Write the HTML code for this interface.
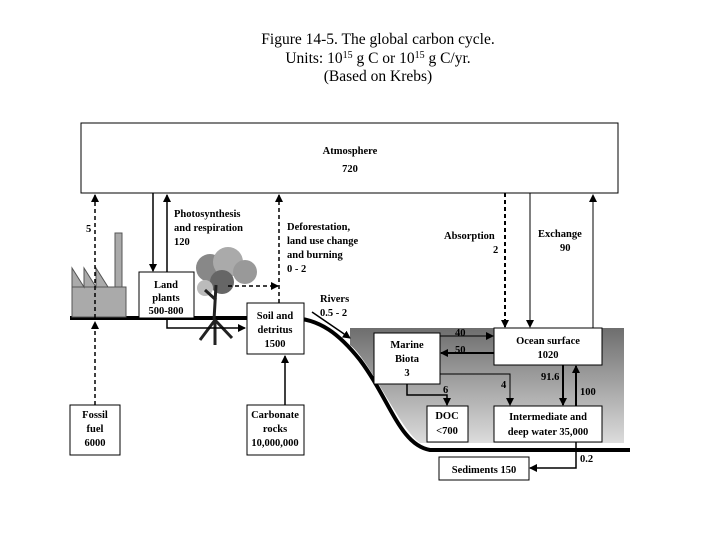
<!DOCTYPE html>
<html><head><meta charset="utf-8"><style>
body{margin:0;background:#fff}
svg{display:block}
text{font-family:"Liberation Serif",serif;}
.b{font-weight:bold;font-size:10.5px}
</style></head><body>
<svg width="720" height="540" viewBox="0 0 720 540" xmlns="http://www.w3.org/2000/svg">
<defs>
<linearGradient id="g" x1="0" y1="0" x2="0" y2="1">
<stop offset="0" stop-color="#6e6e6e"/><stop offset="1" stop-color="#dcdcdc"/></linearGradient>
<marker id="a" markerWidth="8" markerHeight="8" refX="7" refY="4" orient="auto" markerUnits="userSpaceOnUse"><path d="M0,0 L8,4 L0,8 z" fill="#000"/></marker>
</defs>
<g text-anchor="middle" font-size="15.5">
<text x="378" y="44">Figure 14-5. The global carbon cycle.</text>
<text x="378" y="63">Units: 10<tspan dy="-5" font-size="10">15</tspan><tspan dy="5"> g C or 10</tspan><tspan dy="-5" font-size="10">15</tspan><tspan dy="5"> g C/yr.</tspan></text>
<text x="378" y="81">(Based on Krebs)</text>
</g>
<!-- ocean -->
<path d="M350,328 L624,328 L624,443 L420,443 C400,430 370,360 350,345 z" fill="url(#g)"/>
<!-- ground -->
<path d="M70,318 L290,318 C320,318 340,335 360,360 C390,400 400,445 430,450 L630,450" fill="none" stroke="#000" stroke-width="4"/>
<!-- atmosphere -->
<rect x="81" y="123" width="537" height="70" fill="#fff" stroke="#000"/>
<text class="b" x="350" y="154" text-anchor="middle">Atmosphere</text>
<text class="b" x="350" y="172" text-anchor="middle">720</text>
<!-- factory -->
<rect x="72" y="287" width="54" height="30" fill="#aaa" stroke="#555"/>
<path d="M72,287 L72,268 L84,287 L84,268 L96,287 L96,268 L108,287z" fill="#aaa" stroke="#555"/>
<rect x="115" y="233" width="7" height="54" fill="#aaa" stroke="#555"/>
<!-- tree -->
<g fill="#888">
<circle cx="210" cy="268" r="14"/><circle cx="228" cy="262" r="15" fill="#aaa"/><circle cx="245" cy="272" r="12" fill="#999"/><circle cx="222" cy="282" r="12" fill="#666"/><circle cx="205" cy="288" r="8" fill="#bbb"/>
</g>
<path d="M214,320 L216,285 M216,300 L205,290 M215,320 L200,340 M215,320 L232,338 M215,320 L215,345" stroke="#222" stroke-width="3" fill="none"/>
<!-- boxes -->
<g fill="#fff" stroke="#000">
<rect x="139" y="272" width="55" height="46"/>
<rect x="247" y="303" width="57" height="51"/>
<rect x="374" y="333" width="66" height="51"/>
<rect x="494" y="328" width="108" height="37"/>
<rect x="427" y="406" width="41" height="36"/>
<rect x="494" y="406" width="108" height="36"/>
<rect x="439" y="457" width="90" height="23"/>
<rect x="70" y="405" width="50" height="50"/>
<rect x="247" y="405" width="57" height="50"/>
</g>
<g class="b" text-anchor="middle">
<text x="166" y="288">Land</text><text x="166" y="301">plants</text><text x="166" y="314">500-800</text>
<text x="275" y="319">Soil and</text><text x="275" y="333">detritus</text><text x="275" y="347">1500</text>
<text x="407" y="348">Marine</text><text x="407" y="362">Biota</text><text x="407" y="376">3</text>
<text x="548" y="344">Ocean surface</text><text x="548" y="358">1020</text>
<text x="447" y="419">DOC</text><text x="447" y="434">&lt;700</text>
<text x="548" y="420">Intermediate and</text><text x="548" y="435">deep water 35,000</text>
<text x="484" y="473">Sediments 150</text>
<text x="95" y="418">Fossil</text><text x="95" y="432">fuel</text><text x="95" y="446">6000</text>
<text x="275" y="418">Carbonate</text><text x="275" y="432">rocks</text><text x="275" y="446">10,000,000</text>
</g>
<g class="b">
<text x="86" y="232">5</text>
<text x="174" y="217">Photosynthesis</text><text x="174" y="231">and respiration</text><text x="174" y="245">120</text>
<text x="287" y="230">Deforestation,</text><text x="287" y="244">land use change</text><text x="287" y="258">and burning</text><text x="287" y="272">0 - 2</text>
<text x="320" y="302">Rivers</text><text x="320" y="316">0.5 - 2</text>
<text x="444" y="239">Absorption</text><text x="493" y="253">2</text>
<text x="538" y="237">Exchange</text><text x="560" y="251">90</text>
<text x="455" y="336">40</text><text x="455" y="353">50</text>
<text x="443" y="393">6</text><text x="501" y="388">4</text>
<text x="541" y="380">91.6</text><text x="580" y="395">100</text><text x="580" y="462">0.2</text>
</g>
<!-- arrows -->
<g stroke="#000" fill="none" stroke-width="1.5" marker-end="url(#a)">
<path d="M95,318 V195" stroke-dasharray="4,3"/>
<path d="M95,405 V322" stroke-dasharray="4,3"/>
<path d="M153,193 V271"/>
<path d="M167,272 V195"/>
<path d="M279,303 V195" stroke-dasharray="4,3"/>
<path d="M228,286 H278" stroke-dasharray="4,3"/>
<path d="M167,318 V328 H245"/>
<path d="M285,405 V356"/>
<path d="M312,312 L350,338"/>
<path d="M505,193 V327" stroke-dasharray="4,3" stroke-width="2"/>
<path d="M530,193 V327" stroke-width="1"/>
<path d="M593,328 V195" stroke-width="1"/>
<path d="M440,336 H493" stroke-width="1"/>
<path d="M494,353 H441" stroke-width="2"/>
<path d="M407,384 V395 H447 V405"/>
<path d="M440,374 H510 V405" stroke-width="1"/>
<path d="M563,365 V405" stroke-width="2"/>
<path d="M576,406 V366" stroke-width="2"/>
<path d="M576,442 V468 H530"/>
</g>
</svg>
</body></html>
